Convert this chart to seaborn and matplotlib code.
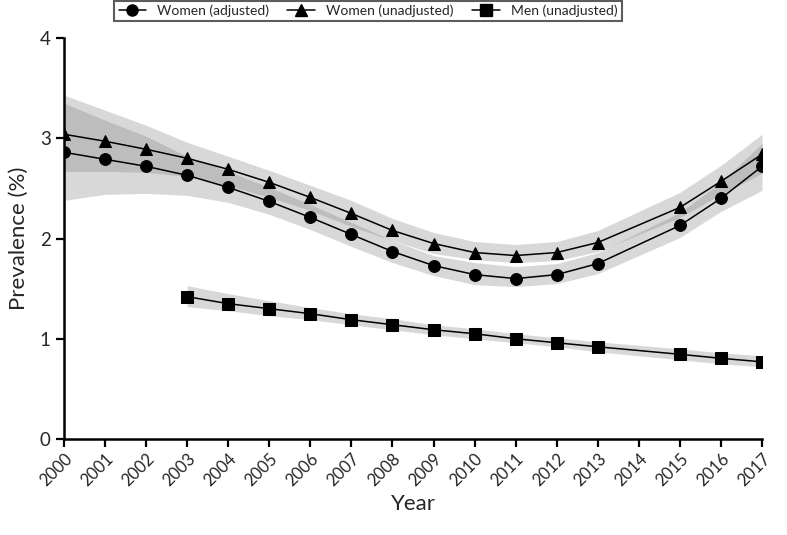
import numpy as np
import pandas as pd
import matplotlib
matplotlib.use("Agg")
import matplotlib.pyplot as plt
import seaborn as sns

# -------------------------------------------------------------------
# Data
# -------------------------------------------------------------------

years_w = [2000, 2001, 2002, 2003, 2004, 2005, 2006, 2007, 2008,
           2009, 2010, 2011, 2012, 2013, 2015, 2016, 2017]
years_m = [2003, 2004, 2005, 2006, 2007, 2008, 2009, 2010,
           2011, 2012, 2013, 2015, 2016, 2017]

women_adj = [2.86, 2.79, 2.72, 2.63, 2.51, 2.37, 2.21, 2.04, 1.87,
             1.73, 1.64, 1.60, 1.64, 1.75, 2.13, 2.40, 2.72]
women_adj_lo = [2.38, 2.44, 2.45, 2.43, 2.36, 2.24, 2.09, 1.92, 1.76,
                1.63, 1.54, 1.52, 1.55, 1.65, 2.01, 2.27, 2.48]
women_adj_hi = [3.35, 3.18, 3.02, 2.82, 2.67, 2.51, 2.34, 2.16, 1.98,
                1.83, 1.76, 1.72, 1.75, 1.86, 2.26, 2.56, 2.95]

women_unadj = [3.04, 2.97, 2.89, 2.80, 2.69, 2.56, 2.41, 2.25, 2.08,
               1.95, 1.86, 1.83, 1.86, 1.96, 2.31, 2.57, 2.84]
women_unadj_lo = [2.67, 2.67, 2.66, 2.62, 2.53, 2.41, 2.28, 2.12, 1.98,
                  1.85, 1.79, 1.76, 1.78, 1.87, 2.21, 2.44, 2.65]
women_unadj_hi = [3.43, 3.28, 3.13, 2.96, 2.82, 2.68, 2.53, 2.38, 2.20,
                  2.06, 1.97, 1.94, 1.97, 2.08, 2.46, 2.73, 3.04]

men_unadj = [1.42, 1.35, 1.30, 1.25, 1.19, 1.14, 1.09, 1.05,
             1.00, 0.96, 0.92, 0.845, 0.805, 0.77]
men_unadj_lo = [1.32, 1.28, 1.23, 1.19, 1.14, 1.09, 1.04, 1.00,
                0.96, 0.92, 0.87, 0.79, 0.75, 0.72]
men_unadj_hi = [1.53, 1.45, 1.38, 1.31, 1.25, 1.20, 1.14, 1.10,
                1.05, 1.01, 0.97, 0.90, 0.86, 0.83]

series_names = ["Women (adjusted)", "Women (unadjusted)", "Men (unadjusted)"]
x_ticks = list(range(2000, 2018))
y_ticks = [0, 1, 2, 3, 4]

# -------------------------------------------------------------------
# Build long table
# -------------------------------------------------------------------

parts = [
    pd.DataFrame({"year": years_w, "value": women_adj,
                  "lo": women_adj_lo, "hi": women_adj_hi,
                  "series": series_names[0]}),
    pd.DataFrame({"year": years_w, "value": women_unadj,
                  "lo": women_unadj_lo, "hi": women_unadj_hi,
                  "series": series_names[1]}),
    pd.DataFrame({"year": years_m, "value": men_unadj,
                  "lo": men_unadj_lo, "hi": men_unadj_hi,
                  "series": series_names[2]}),
]
df = pd.concat(parts, ignore_index=True)

# -------------------------------------------------------------------
# Plot
# -------------------------------------------------------------------

sns.set_style("ticks")
plt.rcParams["font.family"] = ["Lato", "DejaVu Sans"]

fig = plt.figure(figsize=(7.87, 5.35), dpi=100)
ax = fig.add_axes([0.0813, 0.1794, 0.8870, 0.7496])

# confidence bands
for name in series_names:
    sub = df[df["series"] == name]
    ax.fill_between(sub["year"], sub["lo"], sub["hi"],
                    color="#808080", alpha=0.3, linewidth=0, zorder=1)

markers = {series_names[0]: "o", series_names[1]: "^", series_names[2]: "s"}
palette = {n: "black" for n in series_names}
sns.lineplot(data=df, x="year", y="value", hue="series", style="series",
             markers=markers, dashes=False, palette=palette,
             markersize=8.5, linewidth=1.1, markeredgecolor="black",
             ax=ax, legend=False, zorder=3)

ax.set_xlim(2000, 2017)
ax.set_ylim(0, 4)
ax.set_xticks(x_ticks)
ax.set_xticklabels([str(y) for y in x_ticks], rotation=45,
                   ha="right", rotation_mode="anchor", fontsize=12)
ax.set_yticks(y_ticks)
ax.set_yticklabels([str(y) for y in y_ticks], fontsize=13.5)
ax.tick_params(axis="both", direction="out", length=6, width=1.6,
               color="black")
ax.tick_params(axis="x", pad=2)

for side in ["top", "right"]:
    ax.spines[side].set_visible(False)
for side in ["left", "bottom"]:
    ax.spines[side].set_linewidth(1.8)
    ax.spines[side].set_color("black")

ax.set_xlabel("Year", fontsize=16, labelpad=4)
ax.set_ylabel("Prevalence (%)", fontsize=16, labelpad=8)

# legend
handles = [plt.Line2D([], [], color="black", marker=markers[n],
                      markersize=8, linewidth=1.1) for n in series_names]
leg = fig.legend(handles, series_names, loc="upper center",
                 bbox_to_anchor=(0.4676, 1.012), ncol=3, fontsize=10,
                 frameon=True, fancybox=False, handlelength=2.0,
                 columnspacing=1.3, borderpad=0.3)
leg.get_frame().set_edgecolor("#333333")
leg.get_frame().set_linewidth(1.5)

fig.savefig("out.png", dpi=100)
